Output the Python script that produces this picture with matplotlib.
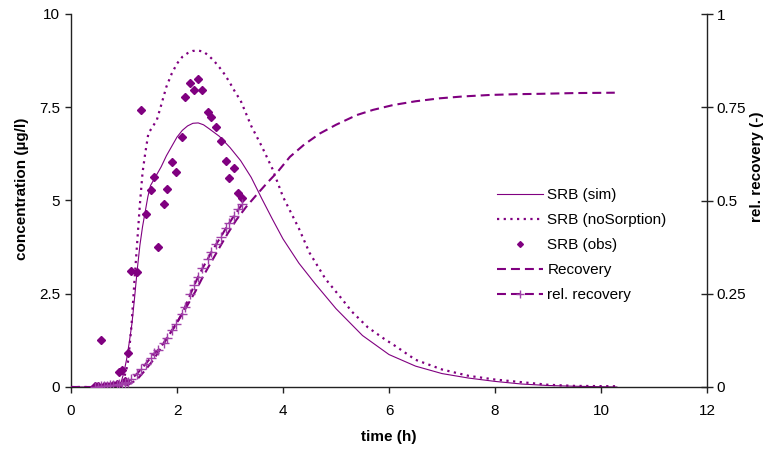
import matplotlib
matplotlib.use("Agg")
import matplotlib.pyplot as plt

plt.rcParams['font.family'] = ['Liberation Sans', 'DejaVu Sans']

PURPLE = '#800080'
LIGHT = '#A040A8'

# simulated breakthrough, with sorption
t_sim = [0, 0.5, 0.9, 0.95, 1.0, 1.05, 1.1, 1.15, 1.2, 1.25, 1.3, 1.35, 1.4, 1.45,
         1.5, 1.6, 1.7, 1.8, 1.9, 2.0, 2.1, 2.2, 2.3, 2.4, 2.5, 2.6, 2.8, 3.0,
         3.2, 3.4, 3.6, 3.8, 4.0, 4.3, 4.6, 5.0, 5.5, 6.0, 6.5, 7.0, 7.5, 8.0,
         8.5, 9.0, 9.5, 10.3]
c_sim = [0, 0, 0.02, 0.15, 0.4, 0.75, 1.2, 1.7, 2.4, 3.15, 3.8, 4.3, 4.7, 5.1,
         5.4, 5.65, 5.9, 6.2, 6.45, 6.7, 6.88, 7.0, 7.07, 7.08, 7.03, 6.93, 6.72, 6.42,
         6.07, 5.62, 5.05, 4.5, 3.97, 3.32, 2.78, 2.1, 1.38, 0.87, 0.56, 0.36, 0.24, 0.15,
         0.08, 0.04, 0.02, 0.0]

# simulated breakthrough, no sorption
t_nosorp = [0, 0.5, 0.9, 0.99, 1.05, 1.08, 1.14, 1.2, 1.25, 1.3, 1.35, 1.4, 1.46,
            1.55, 1.62, 1.7, 1.8, 1.9, 2.0, 2.1, 2.2, 2.3, 2.4, 2.5, 2.6, 2.7, 2.8,
            2.9, 3.0, 3.1, 3.2, 3.4, 3.6, 3.8, 4.0, 4.3, 4.5, 4.8, 5.1, 5.3, 5.6,
            5.9, 6.14, 6.5, 7.0, 7.5, 8.0, 8.5, 9.0, 9.5, 10.3]
c_nosorp = [0, 0, 0.02, 0.19, 0.5, 0.72, 1.62, 2.9, 3.9, 4.9, 5.75, 6.26, 6.8,
            7.0, 7.16, 7.55, 8.05, 8.4, 8.67, 8.85, 8.95, 9.01, 9.02, 8.99, 8.88, 8.74, 8.57,
            8.38, 8.15, 7.9, 7.68, 7.0, 6.45, 5.85, 5.1, 4.25, 3.6, 2.9, 2.38, 2.02, 1.6,
            1.3, 1.08, 0.73, 0.47, 0.3, 0.2, 0.13, 0.06, 0.03, 0.02]

# observed concentrations
t_obs = [0.45, 0.50, 0.57, 0.62, 0.68, 0.74, 0.80, 0.86, 0.91, 0.97, 1.02, 1.08,
         1.14, 1.25, 1.32, 1.41, 1.50, 1.57, 1.65, 1.75, 1.81, 1.91, 1.99, 2.09,
         2.15, 2.25, 2.33, 2.40, 2.48, 2.58, 2.65, 2.74, 2.83, 2.92, 2.99, 3.07,
         3.16, 3.23]
c_obs = [0.02, 0.02, 1.27, 0.03, 0.03, 0.03, 0.05, 0.08, 0.41, 0.46, 0.15, 0.90,
         3.12, 3.07, 7.43, 4.63, 5.28, 5.64, 3.75, 4.91, 5.32, 6.02, 5.76, 6.70,
         7.78, 8.14, 7.97, 8.26, 7.97, 7.37, 7.24, 6.98, 6.60, 6.06, 5.61, 5.87,
         5.19, 5.08]

# relative recovery from observations
r_obs = [0.000, 0.000, 0.002, 0.004, 0.004, 0.005, 0.005, 0.006, 0.007, 0.009, 0.011, 0.014,
         0.022, 0.036, 0.048, 0.062, 0.078, 0.090, 0.100, 0.118, 0.132, 0.152, 0.170, 0.196,
         0.214, 0.248, 0.274, 0.296, 0.318, 0.343, 0.362, 0.383, 0.403, 0.425, 0.440, 0.458,
         0.476, 0.490]

# simulated recovery
t_rec = [0, 0.5, 1.0, 1.24, 1.4, 1.55, 1.7, 1.87, 2.0, 2.18, 2.35, 2.49, 2.65, 2.81,
         2.95, 3.12, 3.3, 3.5, 3.7, 3.9, 4.13, 4.4, 4.7, 5.0, 5.39, 5.7, 6.08, 6.5,
         6.96, 7.4, 7.91, 8.4, 8.85, 9.5, 10.26]
r_rec = [0, 0, 0.0, 0.019, 0.045, 0.072, 0.105, 0.144, 0.173, 0.215, 0.257, 0.296, 0.336, 0.376,
         0.410, 0.448, 0.482, 0.515, 0.547, 0.577, 0.617, 0.650, 0.680, 0.703, 0.729, 0.743, 0.756, 0.766,
         0.774, 0.779, 0.783, 0.785, 0.786, 0.788, 0.789]

W, H = 769, 450
fig = plt.figure(figsize=(W / 100, H / 100), dpi=100)
ax = fig.add_axes([71 / W, 1 - 387 / H, (707 - 71) / W, (387 - 14) / H])
ax2 = ax.twinx()

dash = (0, (4.3, 2.4))
l_sim, = ax.plot(t_sim, c_sim, color=PURPLE, lw=0.8, label='SRB (sim)')
l_nos, = ax.plot(t_nosorp, c_nosorp, color=PURPLE, lw=1.6, linestyle=(0, (1, 2)),
                 label='SRB (noSorption)')
l_obs, = ax.plot(t_obs, c_obs, linestyle='none', marker='D', markersize=3.7,
                 color=PURPLE, label='SRB (obs)')
l_rec, = ax2.plot(t_rec, r_rec, color=PURPLE, lw=1.5, linestyle=dash, label='Recovery')
l_rel, = ax2.plot(t_obs, r_obs, color=PURPLE, lw=1.5, linestyle=dash, marker='+',
                  markersize=6.5, markeredgewidth=1.0, markeredgecolor=LIGHT,
                  label='rel. recovery')

ax.set_xlim(0, 12)
ax.set_ylim(0, 10)
ax2.set_ylim(0, 1)
ax.set_xticks([0, 2, 4, 6, 8, 10, 12])
ax.set_yticks([0, 2.5, 5, 7.5, 10])
ax.set_yticklabels(['0', '2.5', '5', '7.5', '10'])
ax2.set_yticks([0, 0.25, 0.5, 0.75, 1])
ax2.set_yticklabels(['0', '0.25', '0.5', '0.75', '1'])

for a in (ax, ax2):
    a.spines['top'].set_visible(False)
    for s in a.spines.values():
        s.set_color('#222222')
        s.set_linewidth(1.0)
ax.spines['right'].set_visible(False)
ax2.spines['left'].set_visible(False)
ax2.spines['bottom'].set_visible(False)

ax.tick_params(axis='y', direction='out', length=4, width=1, color='#222222',
               labelsize=11, pad=4)
ax.tick_params(axis='x', direction='out', length=4, width=1, color='#222222',
               labelsize=11, pad=8)
ax2.tick_params(axis='y', direction='inout', length=8, width=1, color='#222222',
                labelsize=11, pad=3)

# axis titles placed in figure pixels
def px(x, y):
    return x / W, 1 - y / H

fig.text(*px(389, 437), 'time (h)', fontsize=11, fontweight='bold',
         ha='center', va='center')
fig.text(*px(22, 189), 'concentration (µg/l)', fontsize=11, fontweight='bold',
         ha='center', va='center', rotation=90)
fig.text(*px(757, 167), 'rel. recovery (-)', fontsize=11, fontweight='bold',
         ha='center', va='center', rotation=90)

ax.legend(handles=[l_sim, l_nos, l_obs, l_rec, l_rel], loc='upper left',
          bbox_to_anchor=px(497, 188), bbox_transform=fig.transFigure,
          frameon=False, fontsize=11, handlelength=3.0, handletextpad=0.3,
          labelspacing=0.72, borderpad=0, borderaxespad=0, markerscale=0.8)

fig.savefig('out.png', dpi=100)
